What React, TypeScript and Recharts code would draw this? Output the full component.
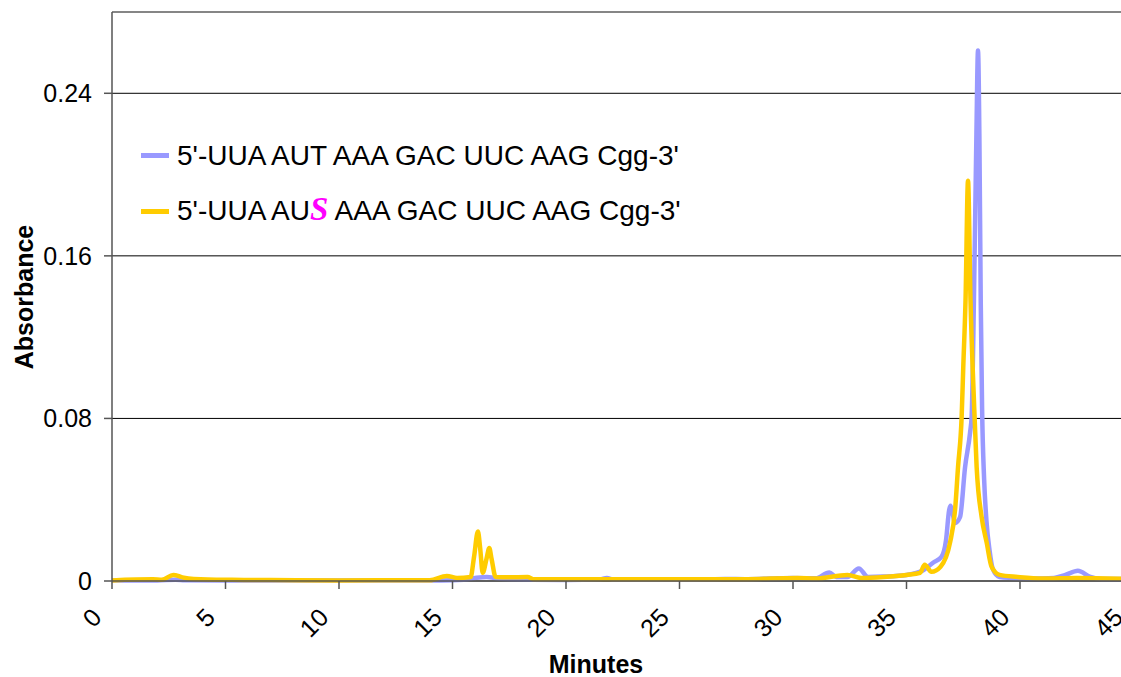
import React from "react";
import {
  LineChart,
  Line,
  XAxis,
  YAxis,
  CartesianGrid,
  ReferenceLine,
  Legend,
} from "recharts";

// retention time (min) and absorbance
const unmodTime = [
  0, 2.0, 2.8, 3.2, 5, 10, 14.5, 15.5, 16.0, 16.5, 17.0, 17.5, 18.5, 20, 21.5, 21.8, 22.1, 24, 26, 27, 28,
  29, 30, 31, 31.6, 31.9, 32.4, 32.9, 33.3, 34, 35, 35.7, 36.17, 36.55, 36.74, 36.88, 36.94, 37.02, 37.14,
  37.36, 37.58, 37.8, 37.87, 37.97, 38.08, 38.15, 38.21, 38.27, 38.33, 38.42, 38.52, 38.66, 38.8, 39.1,
  39.6, 40.5, 41.5, 42.0, 42.55, 43.1, 43.6, 45,
];
const unmodAbs = [
  0.0003, 0.0003, 0.0006, 0.0004, 0.0003, 0.0003, 0.0003, 0.0006, 0.0015, 0.002, 0.0012, 0.0008, 0.0006,
  0.0005, 0.0008, 0.0015, 0.0007, 0.0006, 0.0008, 0.001, 0.0009, 0.0012, 0.0015, 0.0013, 0.0042, 0.002,
  0.002, 0.0062, 0.002, 0.0022, 0.003, 0.005, 0.009, 0.012, 0.02, 0.035, 0.037, 0.034, 0.0285, 0.0315,
  0.056, 0.073, 0.081, 0.138, 0.22, 0.261, 0.22, 0.138, 0.085, 0.05, 0.03, 0.015, 0.006, 0.002, 0.0015,
  0.0012, 0.0015, 0.003, 0.005, 0.002, 0.001, 0.001,
];

const modTime = [
  0, 1.8, 2.2, 2.7, 3.1, 3.6, 5, 7, 10, 14, 14.75, 15.2, 15.8, 15.95, 16.12, 16.22, 16.33, 16.5, 16.62,
  16.72, 16.9, 17.5, 18.3, 18.6, 20, 22, 24, 26, 28, 30.2, 31, 32.4, 33, 34, 35, 35.6, 35.8, 36.1, 36.5,
  36.92, 37.14, 37.27, 37.43, 37.5, 37.6, 37.71, 37.82, 37.97, 38.09, 38.31, 38.53, 38.75, 39.1, 39.9, 41,
  42.5, 45,
];
const modAbs = [
  0.0003, 0.0008, 0.0006, 0.003, 0.0018, 0.001, 0.0006, 0.0005, 0.0003, 0.0004, 0.0025, 0.0015, 0.002,
  0.012, 0.0243, 0.016, 0.004, 0.011, 0.0162, 0.011, 0.002, 0.0018, 0.002, 0.0008, 0.0008, 0.0009, 0.0008,
  0.0008, 0.0009, 0.0015, 0.0012, 0.003, 0.0015, 0.002, 0.003, 0.004, 0.008, 0.0045, 0.007, 0.019, 0.035,
  0.056, 0.081, 0.105, 0.138, 0.197, 0.138, 0.089, 0.056, 0.0315, 0.019, 0.007, 0.003, 0.002, 0.0012,
  0.0015, 0.001,
];

const seriesNames = ["5'-UUA AUT AAA GAC UUC AAG Cgg-3'", "5'-UUA AUS AAA GAC UUC AAG Cgg-3'"];
const seriesColors = ["#9999FF", "#FFCC00"];
const xTicks = [0, 5, 10, 15, 20, 25, 30, 35, 40, 45];
const yTicks = [0, 0.08, 0.16, 0.24];

const unmodData = unmodTime.map((t, i) => ({ t, v: unmodAbs[i] }));
const modData = modTime.map((t, i) => ({ t, v: modAbs[i] }));

const FONT = "'Liberation Sans', Arial, sans-serif";

function XTick({ x, y, payload }: any) {
  const ax = x - 9;
  const ay = y + 30;
  return (
    <text
      x={ax}
      y={ay}
      transform={`rotate(-45 ${ax} ${ay})`}
      textAnchor="end"
      fontSize={25}
      fontFamily={FONT}
      fill="#000"
    >
      {payload.value}
    </text>
  );
}

function LegendBox() {
  return (
    <div style={{ fontFamily: FONT, fontSize: 28, color: "#000" }}>
      {seriesNames.map((name, i) => (
        <div key={name} style={{ display: "flex", alignItems: "center", height: 55.5, whiteSpace: "nowrap" }}>
          <span style={{ display: "inline-block", width: 28, height: 5, background: seriesColors[i], marginRight: 8 }} />
          {i === 1 ? (
            <span>
              5'-UUA AU
              <span
                style={{
                  color: "#FF00FF",
                  fontFamily: "'Liberation Serif', 'Times New Roman', serif",
                  fontWeight: "bold",
                  fontStyle: "italic",
                  fontSize: 33,
                  lineHeight: "28px",
                }}
              >
                S
              </span>{" "}
              AAA GAC UUC AAG Cgg-3'
            </span>
          ) : (
            <span>{name}</span>
          )}
        </div>
      ))}
    </div>
  );
}

export default function App() {
  return (
    <div style={{ position: "absolute", left: 0, top: 0, width: 1121, height: 677, overflow: "hidden", background: "#fff" }}>
      <LineChart width={1150} height={677} margin={{ top: 12, right: 16.5, bottom: 0, left: 0 }}>
        <CartesianGrid horizontal vertical={false} stroke="#000" strokeWidth={1} />
        <ReferenceLine y={0.28} stroke="#888" strokeWidth={1.5} />
        <XAxis
          dataKey="t"
          type="number"
          domain={[0, 45]}
          ticks={xTicks}
          interval={0}
          height={96}
          tickSize={8}
          tickMargin={0}
          axisLine={{ stroke: "#555", strokeWidth: 1.5 }}
          tickLine={{ stroke: "#555", strokeWidth: 1.5 }}
          tick={<XTick />}
          label={{
            content: () => (
              <text x={596} y={673} textAnchor="middle" fontSize={25} fontWeight="bold" fontFamily={FONT} fill="#000">
                Minutes
              </text>
            ),
          }}
        />
        <YAxis
          type="number"
          domain={[0, 0.28]}
          ticks={yTicks}
          interval={0}
          width={112}
          tickSize={8}
          tickMargin={12}
          axisLine={{ stroke: "#555", strokeWidth: 1.5 }}
          tickLine={{ stroke: "#555", strokeWidth: 1.5 }}
          tick={{ fontSize: 25, fill: "#000", fontFamily: FONT }}
          tickFormatter={(v: number) => (v === 0 ? "0" : v.toFixed(2))}
          label={{
            content: () => (
              <text
                x={33}
                y={297}
                transform="rotate(-90 33 297)"
                textAnchor="middle"
                fontSize={25}
                fontWeight="bold"
                fontFamily={FONT}
                fill="#000"
              >
                Absorbance
              </text>
            ),
          }}
        />
        <Legend
          layout="vertical"
          align="center"
          verticalAlign="middle"
          wrapperStyle={{ left: 141, top: 128, width: "auto" }}
          content={<LegendBox />}
        />
        <Line
          data={unmodData}
          dataKey="v"
          name={seriesNames[0]}
          type="monotone"
          stroke={seriesColors[0]}
          strokeWidth={4.5}
          dot={false}
          activeDot={false}
          isAnimationActive={false}
        />
        <Line
          data={modData}
          dataKey="v"
          name={seriesNames[1]}
          type="monotone"
          stroke={seriesColors[1]}
          strokeWidth={4.5}
          dot={false}
          activeDot={false}
          isAnimationActive={false}
        />
      </LineChart>
    </div>
  );
}
